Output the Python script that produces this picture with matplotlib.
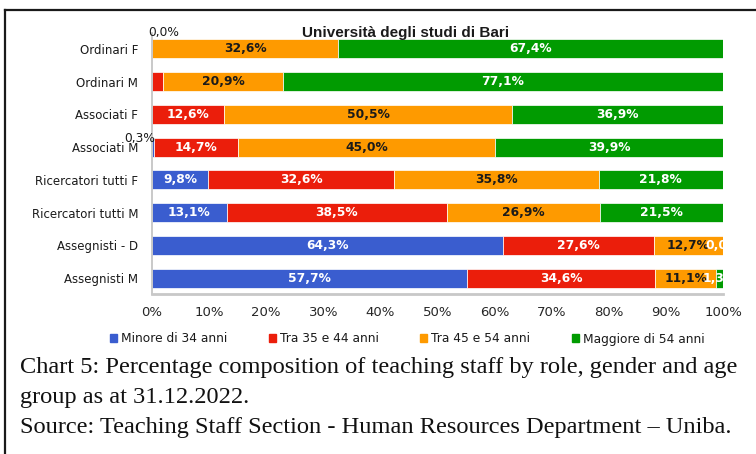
import numpy as np
import matplotlib
matplotlib.use('Agg')
import matplotlib.pyplot as plt
from matplotlib.lines import Line2D
from matplotlib.patches import Patch

# data (raw percentages as printed in the labels)
CATEGORIES = ['Ordinari F', 'Ordinari M', 'Associati F', 'Associati M',
              'Ricercatori tutti F', 'Ricercatori tutti M',
              'Assegnisti - D', 'Assegnisti M']
MINORE_34 = [0.0, 0.0, 0.0, 0.3, 9.8, 13.1, 64.3, 57.7]
TRA_35_44 = [0.0, 2.0, 12.6, 14.7, 32.6, 38.5, 27.6, 34.6]
TRA_45_54 = [32.6, 20.9, 50.5, 45.0, 35.8, 26.9, 12.7, 11.1]
MAGGIORE_54 = [67.4, 77.1, 36.9, 39.9, 21.8, 21.5, 0.0, 1.3]
SERIES_NAMES = ['Minore di 34 anni', 'Tra 35 e 44 anni',
                'Tra 45 e 54 anni', 'Maggiore di 54 anni']
X_TICKS = [0, 10, 20, 30, 40, 50, 60, 70, 80, 90, 100]

# styling
COLORS = ['#3a5dcf', '#eb1e0b', '#fe9a00', '#019b01']
LABEL_COLORS = ['white', 'white', '#1a1a1a', 'white']
HIDDEN = {(0, 1), (1, 0), (1, 1), (2, 0)}
# labels moved by hand in the original (pixel offsets, dark text)
MOVED = {(0, 0): (12, 16), (3, 0): (-13, 9)}
FONT = 'DejaVu Sans'


def fmt(v):
    return f'{v:.1f}%'.replace('.', ',')


def main():
    fig = plt.figure(figsize=(7.56, 4.54), dpi=100, facecolor='white')
    W, H = 756, 454
    ax = fig.add_axes([152 / W, 1 - 294.4 / H, (723 - 152) / W, (294.4 - 32.6) / H])

    data = np.array([MINORE_34, TRA_35_44, TRA_45_54, MAGGIORE_54])
    totals = data.sum(axis=0)
    frac = data / totals * 100  # 100% stacked
    y = np.arange(len(CATEGORIES))

    left = np.zeros(len(CATEGORIES))
    for s in range(4):
        ax.barh(y, frac[s], left=left, height=0.58, color=COLORS[s],
                edgecolor='white', linewidth=0.5, label=SERIES_NAMES[s])
        for i in range(len(CATEGORIES)):
            if (i, s) in HIDDEN:
                continue
            cx = left[i] + frac[s][i] / 2
            if (i, s) in MOVED:
                dx, dy = MOVED[(i, s)]
                ax.annotate(fmt(data[s][i]), xy=(cx, y[i]), xytext=(dx * 0.72, dy * 0.72),
                            textcoords='offset points', ha='center', va='center',
                            fontsize=8.8, color='#1a1a1a', family=FONT,
                            annotation_clip=False)
            else:
                ax.text(cx, y[i], fmt(data[s][i]), ha='center', va='center',
                        fontsize=8.8, fontweight='bold', color=LABEL_COLORS[s],
                        family=FONT, clip_on=True)
        left += frac[s]

    ax.set_xlim(0, 100)
    ax.set_ylim(len(CATEGORIES) - 0.5, -0.5)
    ax.set_yticks(y)
    ax.set_yticklabels(CATEGORIES, fontsize=8.5, family=FONT, color='#1a1a1a')
    ax.set_xticks(X_TICKS)
    ax.set_xticklabels([f'{t}%' for t in X_TICKS], fontsize=9.5, family=FONT,
                       color='#262626')
    ax.tick_params(length=0)
    ax.tick_params(axis='x', pad=8)
    ax.tick_params(axis='y', pad=10)
    for side in ['top', 'right']:
        ax.spines[side].set_visible(False)
    ax.spines['left'].set_color('#c0c0c0')
    ax.spines['left'].set_linewidth(1.2)
    ax.spines['bottom'].set_color('#c8c8c8')
    ax.spines['bottom'].set_linewidth(2)

    fig.text(406 / W, 1 - 33 / H, 'Università degli studi di Bari',
             ha='center', va='center', fontsize=11, fontweight='bold',
             family='Liberation Sans', color='#1a1a1a')

    handles = [Patch(color=c) for c in COLORS]
    fig.legend(handles, SERIES_NAMES, loc='center', ncol=4,
               bbox_to_anchor=(407 / W, 1 - 339 / H), frameon=False,
               prop={'family': FONT, 'size': 8.8},
               handlelength=0.6, handleheight=0.6, handletextpad=0.3,
               columnspacing=3.4, labelcolor='#1a1a1a')

    caption = ['Chart 5: Percentage composition of teaching staff by role, gender and age',
               'group as at 31.12.2022.',
               'Source: Teaching Staff Section - Human Resources Department \u2013 Uniba.']
    for k, line in enumerate(caption):
        fig.text(20 / W, 1 - (368 + 29.5 * k) / H, line, ha='left', va='center',
                 fontsize=17.6, family='Liberation Serif', color='#111111')

    # frame lines of the original screenshot
    fig.add_artist(Line2D([5 / W, 1], [1 - 10 / H] * 2, transform=fig.transFigure,
                          color='#1a1a1a', lw=1.6))
    fig.add_artist(Line2D([5 / W] * 2, [0, 1 - 10 / H], transform=fig.transFigure,
                          color='#1a1a1a', lw=1.6))

    fig.savefig('out.png', dpi=100, facecolor='white')
    plt.close(fig)


if __name__ == '__main__':
    main()
